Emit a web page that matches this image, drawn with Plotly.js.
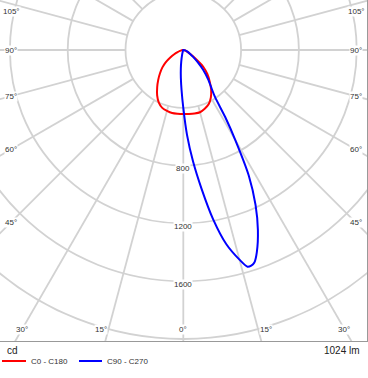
<!DOCTYPE html>
<html><head><meta charset="utf-8">
<script src="https://cdn.plot.ly/plotly-3.0.1.min.js"></script>
<style>html,body{margin:0;padding:0;background:#fff;}#chart{width:368px;height:378px;}</style>
</head><body><div id="chart"></div>
<script>
// ---- data (gamma in degrees from nadir; negative = left half) ----
const gammaRed = [-90,-85,-80,-75,-70,-65,-60,-55,-50,-45,-40,-35,-30,-25,-20,-15,-10,-5,0,5,10,15,20,25,30,35,40,45,50,55,60,65,70,80,90];
const redCd    = [0,6,14,24,42,69,104,149,190,228,270,315,362,401,426,436,443,443,443,444,446,446,433,415,381,336,284,235,180,102,55,35,22,8,0];
const gammaBlue = [-90,-60,-30,-20,-15,-10,-7.5,-5,-2.5,0,2.5,5,7.5,10,12.5,15,16.5,17.5,18.5,20,22.5,25,27.5,30,32,34,37,40,45,50,55,60,70,80,90];
const blueCd    = [0,2,5,10,28,83,131,194,277,401,588,775,969,1190,1377,1502,1564,1564,1550,1488,1349,1183,983,720,547,392,318,270,194,128,83,55,28,14,0];
const seriesNames = ['C0 - C180','C90 - C270'];
const seriesColors = ['#ff0000','#0000ff'];
const ringValues = [400,800,1200,1600,2000,2400];
const ringLabelValues = [800,1200,1600];
const sideAngleLabels = [105,90,75,60,45];
const bottomAngleLabels = [-30,-15,0,15,30];
const unitLabel = 'cd';
const fluxLabel = '1024 lm';

// ---- geometry ----
const W=368,H=378,ML=0,MR=1,MT=0,MB=37;
const plotW=W-ML-MR, plotH=H-MT-MB;
const CX=183.3, CY=50, PX400=57.8;
const k=400/PX400; // cd per px
const xr=[-CX*k,(plotW-CX)*k];
const yr=[-(plotH-CY)*k,CY*k];
const rad=d=>d*Math.PI/180;
const toX=(g,r)=>r*Math.sin(rad(g));
const toY=(g,r)=>-r*Math.cos(rad(g));
const px=v=>v/plotW, py=v=>(plotH-v)/plotH; // page px -> paper

const gridColor='#d2d2d2';
const shapes=[];
ringValues.forEach(R=>shapes.push({type:'circle',xref:'x',yref:'y',x0:-R,x1:R,y0:-R,y1:R,line:{color:gridColor,width:1.8},layer:'below'}));
for(let a=0;a<360;a+=15){
  shapes.push({type:'line',xref:'x',yref:'y',x0:toX(a,400),y0:toY(a,400),x1:toX(a,4000),y1:toY(a,4000),line:{color:gridColor,width:1.8},layer:'below'});
}

const FAM='Liberation Sans, Arial, sans-serif';
const lblFont={family:FAM,size:8,color:'#333'};
const annotations=[];
ringLabelValues.forEach(v=>annotations.push({x:0,y:-v-3*k,xref:'x',yref:'y',text:String(v),showarrow:false,font:lblFont,bgcolor:'#fff',borderpad:0,xanchor:'center',yanchor:'middle'}));
const inset=11;
sideAngleLabels.forEach(a=>{
  [-1,1].forEach(s=>{
    const xpx = s<0 ? -(CX-inset) : (plotW-CX-inset);
    const x = xpx*k;
    const t = x/(s*Math.sin(rad(a)));
    let y = -t*Math.cos(rad(a));
    y=Math.min(y,(CY-11)*k);
    annotations.push({x:x,y:y,xref:'x',yref:'y',text:a+'°',showarrow:false,font:lblFont,bgcolor:'#fff',borderpad:0,xanchor:'center',yanchor:'middle'});
  });
});
bottomAngleLabels.forEach(a=>{
  const y=-(329-CY)*k;
  let x = a===0?0:(y/(-Math.cos(rad(a))))*Math.sin(rad(a));
  x=Math.max(Math.min(x,(plotW-CX-12)*k),-(CX-12)*k);
  const shift = Math.abs(a)===15 ? Math.sign(a)*8 : 0;
  annotations.push({x:x,y:y,xref:'x',yref:'y',xshift:shift,text:Math.abs(a)+'°',showarrow:false,font:lblFont,bgcolor:'#fff',borderpad:0,xanchor:'center',yanchor:'middle'});
});
annotations.push({x:px(5),y:py(350),xref:'paper',yref:'paper',text:unitLabel,showarrow:false,xanchor:'left',yanchor:'middle',font:{family:FAM,size:10,color:'#222'}});
annotations.push({x:px(362),y:py(350),xref:'paper',yref:'paper',text:fluxLabel,showarrow:false,xanchor:'right',yanchor:'middle',font:{family:FAM,size:10,color:'#222'}});

// legend (drawn below the frame)
const legendX=[[2,26,29],[79,102,105]];
seriesNames.forEach((n,i)=>{
  const [l0,l1,tx]=legendX[i];
  shapes.push({type:'line',xref:'paper',yref:'paper',x0:px(l0),x1:px(l1),y0:py(361),y1:py(361),line:{color:seriesColors[i],width:2}});
  annotations.push({x:px(tx),y:py(361),xref:'paper',yref:'paper',text:n,showarrow:false,xanchor:'left',yanchor:'middle',font:{family:FAM,size:8,color:'#333'}});
});

const traces=[
  {type:'scatter',mode:'lines',name:seriesNames[0],x:gammaRed.map((g,i)=>toX(g,redCd[i])),y:gammaRed.map((g,i)=>toY(g,redCd[i])),line:{color:seriesColors[0],width:2,shape:'spline',smoothing:0.8},hoverinfo:'skip'},
  {type:'scatter',mode:'lines',name:seriesNames[1],x:gammaBlue.map((g,i)=>toX(g,blueCd[i])),y:gammaBlue.map((g,i)=>toY(g,blueCd[i])),line:{color:seriesColors[1],width:2,shape:'spline',smoothing:0.7},hoverinfo:'skip'}
];
const axisBase={showgrid:false,zeroline:false,showticklabels:false,ticks:'',showline:true,mirror:true,linecolor:'#999',linewidth:1,fixedrange:true};
const layout={
  width:W,height:H,margin:{l:ML,r:MR,t:MT,b:MB,pad:0},
  paper_bgcolor:'#fff',plot_bgcolor:'#fff',
  font:{family:FAM,size:8,color:'#333'},
  xaxis:Object.assign({range:xr},axisBase),
  yaxis:Object.assign({range:yr},axisBase),
  shapes:shapes,annotations:annotations,
  showlegend:false
};
Plotly.newPlot('chart',traces,layout,{displayModeBar:false,staticPlot:true});
</script></body></html>
